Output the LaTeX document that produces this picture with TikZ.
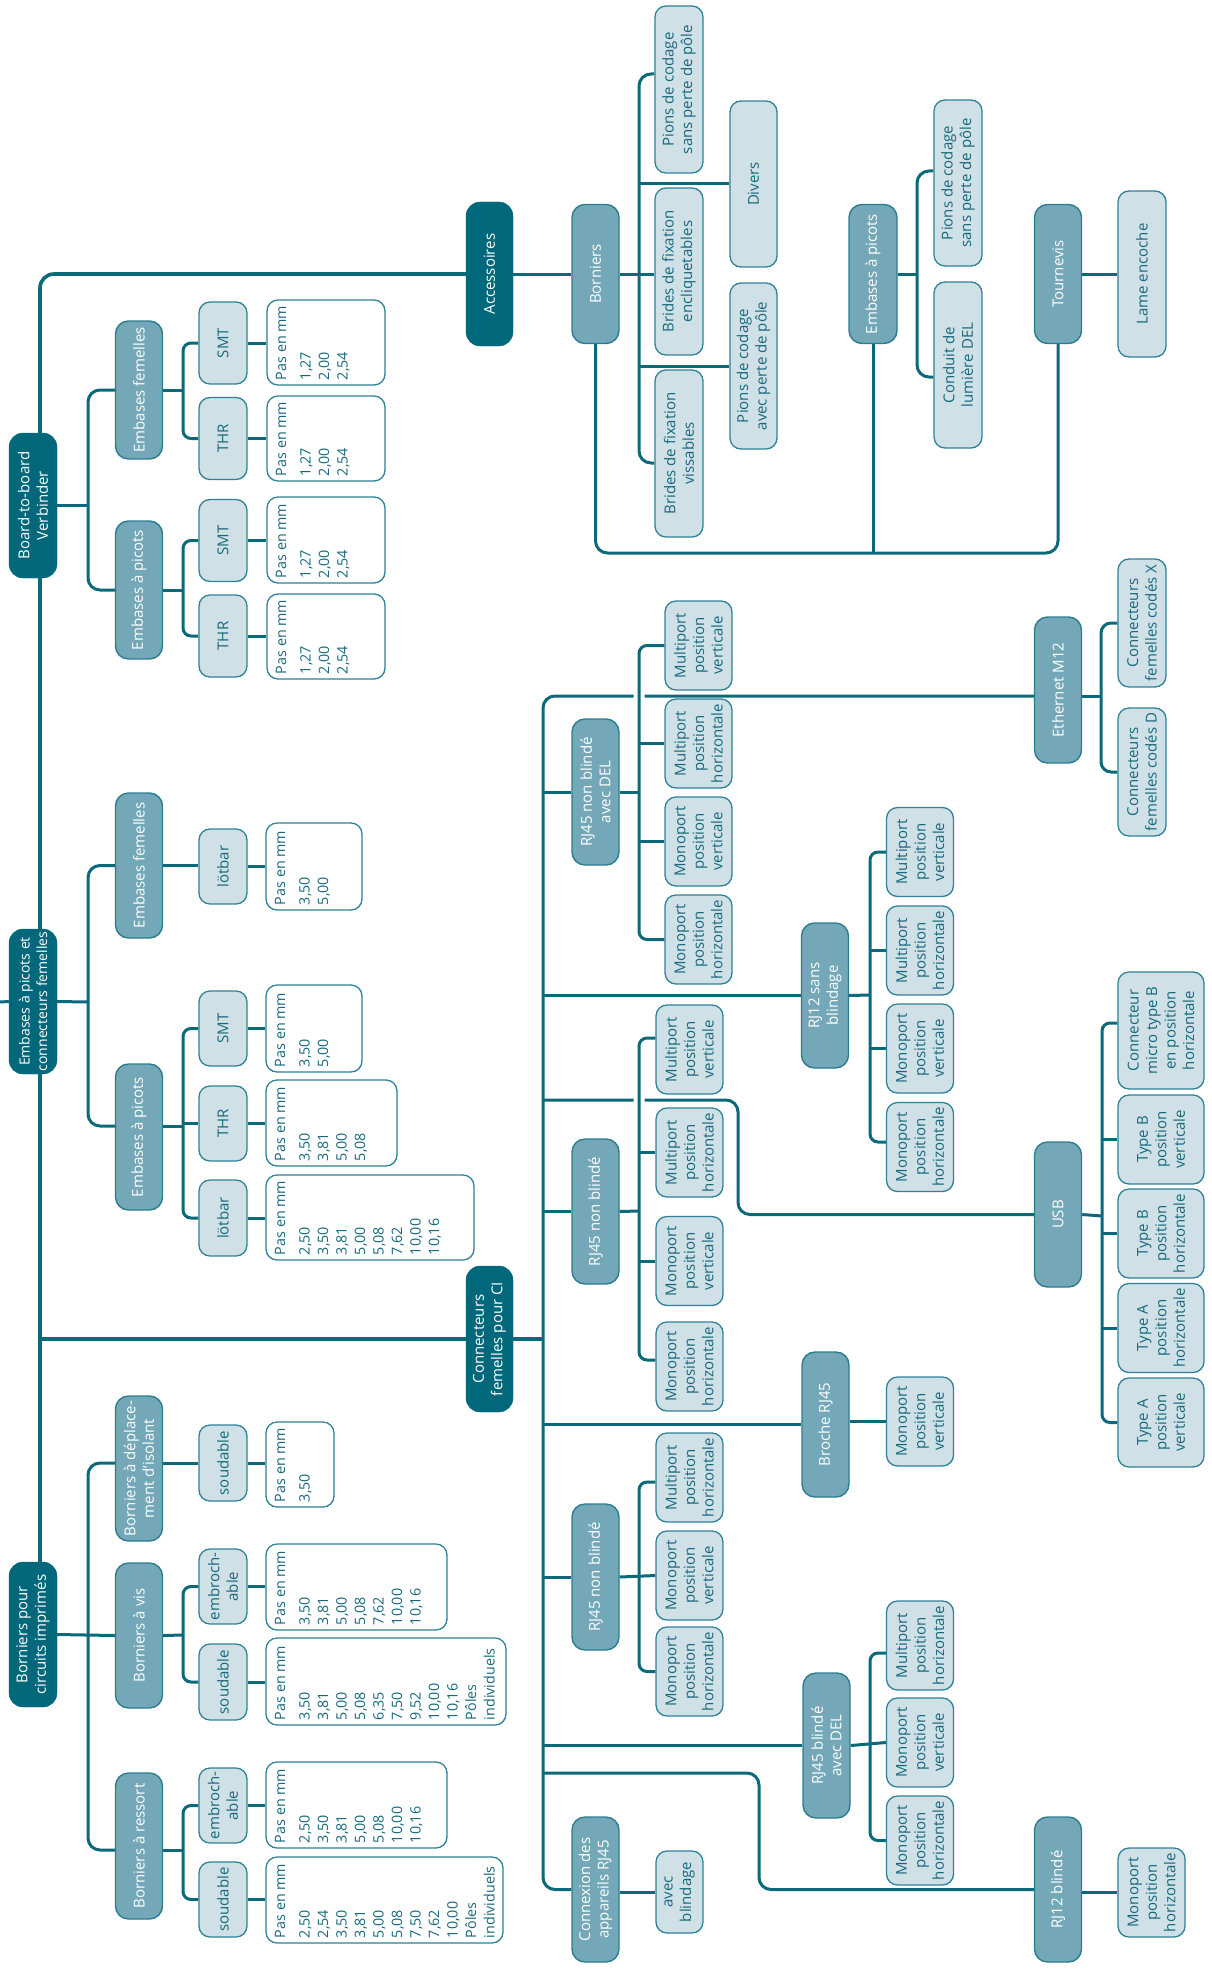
\documentclass[tikz,border=0pt]{standalone}
\usepackage{fontspec}
\setmainfont{Open Sans}
\usetikzlibrary{calc,backgrounds}
\definecolor{tDark}{HTML}{00687A}
\definecolor{tMid}{HTML}{74A8B8}
\definecolor{tMidEdge}{HTML}{2B7C8F}
\definecolor{tLight}{HTML}{CFE1E7}
\definecolor{tEdge}{HTML}{2E8196}
\definecolor{tLine}{HTML}{0B6979}
\definecolor{tText}{HTML}{17687C}
\newcommand{\boxfont}{\fontsize{15}{18.5}\selectfont}
\newcommand{\pasfont}{\fontsize{14.3}{18.5}\selectfont}
\newcommand{\pasmm}[3]{\parbox[c][\dimexpr#1pt-18pt\relax][t]{\dimexpr#2pt-10pt\relax}{\raggedright\mbox{Pas en mm}\\[6pt]#3}}

\begin{document}
\begin{tikzpicture}[x=1pt, y=-1pt,
    boxbase/.style={rotate=90, align=center, inner sep=1pt, font=\boxfont},
    cat/.style={boxbase, fill=tDark, draw=tDark, text=white, rounded corners=14pt,
                minimum width=145pt, minimum height=48pt},
    grp/.style={boxbase, fill=tMid, draw=tMidEdge, line width=1.4pt, text=white,
                rounded corners=13pt, minimum width=145pt, minimum height=47pt},
    opt/.style={boxbase, fill=tLight, draw=tEdge, line width=1.3pt, text=tText,
                rounded corners=11pt, minimum height=48pt},
    multi/.style={opt, minimum width=89pt, minimum height=67pt},
    usbopt/.style={opt, minimum width=89pt, minimum height=86pt},
    pas/.style={rotate=90, draw=tEdge, fill=white, line width=1.3pt, text=tText,
                rounded corners=11pt, inner xsep=5pt, inner ysep=9pt, font=\pasfont},
    ln/.style={draw=tLine, line width=3pt},
    bridge/.style={preaction={draw=white, line width=11pt}}]
  \useasboundingbox (0,0) rectangle (1212,1972);

  % niveau 1
  \node[cat] (bb) at (33,505.5) {Board-to-board\\Verbinder};
  \node[cat, font=\fontsize{14}{17.5}\selectfont] (ep) at (33,1001.5) {Embases à picots et\\connecteurs femelles};
  \node[cat] (bc) at (33,1634.5) {Borniers pour\\circuits imprimés};
  \node[cat, minimum width=144pt, minimum height=47pt] (acc) at (489.5,274) {Accessoires};
  \node[cat, minimum width=146pt, minimum height=47pt] (cf) at (489.5,1339) {Connecteurs\\femelles pour CI};

  % accessoires
  \node[grp, minimum width=139pt] (aBor) at (595.5,274) {Borniers};
  \node[grp, minimum width=139pt, minimum height=48pt] (aEmb) at (873,274) {Embases à picots};
  \node[grp, minimum width=139pt] (aTour) at (1058,274) {Tournevis};
  \node[opt, minimum width=167pt] (a1) at (679,89.5) {Pions de codage\\sans perte de pôle};
  \node[opt, minimum width=167pt] (a2) at (679,271.5) {Brides de fixation\\encliquetables};
  \node[opt, minimum width=167pt] (a3) at (679,453.5) {Brides de fixation\\vissables};
  \node[opt, minimum width=166pt, minimum height=47pt] (a4) at (753.5,184) {Divers};
  \node[opt, minimum width=166pt, minimum height=47pt] (a5) at (753.5,366) {Pions de codage\\avec perte de pôle};
  \node[opt, minimum width=166pt] (a6) at (958,183) {Pions de codage\\sans perte de pôle};
  \node[opt, minimum width=166pt] (a7) at (958,365) {Conduit de\\lumière DEL};
  \node[opt, minimum width=166pt] (a8) at (1142,274) {Lame encoche};

  % board-to-board
  \node[grp, minimum width=138pt] (bEf) at (139,390) {Embases femelles};
  \node[grp, minimum width=138pt] (bEp) at (139,590) {Embases à picots};
  \node[opt, minimum width=82pt] (b1) at (223,343) {SMT};
  \node[opt, minimum width=82pt] (b2) at (223,438.5) {THR};
  \node[opt, minimum width=82pt] (b3) at (223,540.5) {SMT};
  \node[opt, minimum width=82pt] (b4) at (223,636) {THR};
  \node[pas] (p1) at (326,342.5) {\pasmm{118}{85}{1,27\\2,00\\2,54}};
  \node[pas] (p2) at (326,438.5) {\pasmm{118}{85}{1,27\\2,00\\2,54}};
  \node[pas] (p3) at (326,540) {\pasmm{118}{86}{1,27\\2,00\\2,54}};
  \node[pas] (p4) at (326,636.5) {\pasmm{118}{85}{1,27\\2,00\\2,54}};

  % embases a picots et connecteurs femelles
  \node[grp] (eEf) at (139,865.5) {Embases femelles};
  \node[grp, minimum width=146pt] (eEp) at (139,1137) {Embases à picots};
  \node[opt, minimum width=75pt] (e1) at (223,866.5) {lötbar};
  \node[opt, minimum width=75pt] (e2) at (223,1028.5) {SMT};
  \node[opt, minimum width=75pt] (e3) at (223,1123.5) {THR};
  \node[opt, minimum width=76pt] (e4) at (223,1218) {lötbar};
  \node[pas] (p5) at (314,866.5) {\pasmm{96}{87}{3,50\\5,00}};
  \node[pas] (p6) at (314,1028.5) {\pasmm{96}{87}{3,50\\5,00}};
  \node[pas] (p7) at (331.5,1123) {\pasmm{131}{86}{3,50\\3,81\\5,00\\5,08}};
  \node[pas] (p8) at (370,1217.5) {\pasmm{208}{85}{2,50\\3,50\\3,81\\5,00\\5,08\\7,62\\10,00\\10,16}};

  % borniers pour circuits imprimes
  \node[grp] (cDep) at (139,1468.5) {Borniers à déplace-\\ment d'isolant};
  \node[grp] (cVis) at (139,1635.5) {Borniers à vis};
  \node[grp, minimum width=146pt] (cRes) at (139,1846) {Borniers à ressort};
  \node[opt, minimum width=76pt] (c1) at (223,1463) {soudable};
  \node[opt, minimum width=75pt] (c2) at (223,1586.5) {embroch-\\able};
  \node[opt, minimum width=76pt] (c3) at (223,1682) {soudable};
  \node[opt, minimum width=75pt] (c4) at (223,1805.5) {embroch-\\able};
  \node[opt, minimum width=75pt] (c5) at (223,1899.5) {soudable};
  \node[pas] (p9) at (300,1464.5) {\pasmm{68}{85}{3,50}};
  \node[pas] (p10) at (356.5,1587) {\pasmm{181}{86}{3,50\\3,81\\5,00\\5,08\\7,62\\10,00\\10,16}};
  \node[pas] (p11) at (386,1681.5) {\pasmm{240}{87}{3,50\\3,81\\5,00\\5,08\\6,35\\7,50\\9,52\\10,00\\10,16\\Pôles\\individuels}};
  \node[pas] (p12) at (356.5,1805) {\pasmm{181}{86}{2,50\\3,50\\3,81\\5,00\\5,08\\10,00\\10,16}};
  \node[pas] (p13) at (384.5,1900) {\pasmm{237}{86}{2,50\\2,54\\3,50\\3,81\\5,00\\5,08\\7,50\\7,62\\10,00\\Pôles\\individuels}};

  % connecteurs femelles pour CI
  \node[grp, minimum width=146pt] (fEth) at (1058,690) {Ethernet M12};
  \node[opt, minimum width=128pt] (t1) at (1142,623) {Connecteurs\\femelles codés X};
  \node[opt, minimum width=128pt] (t2) at (1142,772) {Connecteurs\\femelles codés D};
  \node[grp, minimum width=146pt] (fRjd) at (595.5,792) {RJ45 non blindé\\avec DEL};
  \node[multi] (d1) at (698.5,645.5) {Multiport\\position\\verticale};
  \node[multi] (d2) at (698.5,743.5) {Multiport\\position\\horizontale};
  \node[multi] (d3) at (698.5,841.5) {Monoport\\position\\verticale};
  \node[multi] (d4) at (698.5,939.5) {Monoport\\position\\horizontale};
  \node[grp] (fRj12) at (825,995.5) {RJ12 sans\\blindage};
  \node[multi] (s1) at (920,852) {Multiport\\position\\verticale};
  \node[multi] (s2) at (920,950.5) {Multiport\\position\\horizontale};
  \node[multi] (s3) at (920,1048.5) {Monoport\\position\\verticale};
  \node[multi] (s4) at (920,1147) {Monoport\\position\\horizontale};
  \node[grp] (fRj1) at (595.5,1211.5) {RJ45 non blindé};
  \node[multi] (n1) at (689.5,1049.5) {Multiport\\position\\verticale};
  \node[multi] (n2) at (689.5,1152.5) {Multiport\\position\\horizontale};
  \node[multi] (n3) at (689.5,1261) {Monoport\\position\\verticale};
  \node[multi] (n4) at (689.5,1366.5) {Monoport\\position\\horizontale};
  \node[grp] (fUsb) at (1058,1214.5) {USB};
  \node[usbopt, minimum width=117pt] (u1) at (1161,1030.5) {Connecteur\\micro type B\\en position\\horizontale};
  \node[usbopt] (u2) at (1161,1139.5) {Type B\\position\\verticale};
  \node[usbopt] (u3) at (1161,1233.5) {Type B\\position\\horizontale};
  \node[usbopt] (u4) at (1161,1328) {Type A\\position\\horizontale};
  \node[usbopt] (u5) at (1161,1422.5) {Type A\\position\\verticale};
  \node[grp] (fBr) at (825.5,1424.5) {Broche RJ45};
  \node[multi] (br1) at (920,1421.5) {Monoport\\position\\verticale};
  \node[grp, minimum width=146pt] (fRj2) at (595.5,1577) {RJ45 non blindé};
  \node[multi] (m1) at (689.5,1477.5) {Multiport\\position\\horizontale};
  \node[multi] (m2) at (689.5,1575.5) {Monoport\\position\\verticale};
  \node[multi] (m3) at (689.5,1671.5) {Monoport\\position\\horizontale};
  \node[grp] (fRjb) at (826.5,1745.5) {RJ45 blindé\\avec DEL};
  \node[multi] (k1) at (920,1645.5) {Multiport\\position\\horizontale};
  \node[multi] (k2) at (920,1742.5) {Monoport\\position\\verticale};
  \node[multi] (k3) at (920,1840.5) {Monoport\\position\\horizontale};
  \node[grp] (fRj12b) at (1058,1889.5) {RJ12 blindé};
  \node[multi] (j1) at (1151.5,1892.5) {Monoport\\position\\horizontale};
  \node[grp] (fCon) at (595.5,1889.5) {Connexion des\\appareils RJ45};
  \node[opt, minimum width=82pt, minimum height=47pt] (x1) at (679.5,1892) {avec\\blindage};

  \begin{scope}[on background layer]
    % tronc
    \coordinate (trunk) at (40,1338);
    \coordinate (edgeL) at (0,1002);
    \draw[ln, line width=3.6pt, rounded corners=14pt] (trunk |- bc.east) |- (acc.north);
    \draw[ln, line width=3.6pt] (cf.north -| trunk) -- (cf.north);
    \draw[ln] (edgeL) -- (ep.north);

    % accessoires
    \coordinate (busA) at (639,274);
    \draw[ln] (acc) -- (aBor);
    \draw[ln, rounded corners=12pt] ($(a1.north)+(0,-15.5)$) -| (busA) |- ($(a3.north)+(0,9.5)$);
    \draw[ln] (aBor.south) -- (aBor.south -| a2.north);
    \draw[ln] (a4.north -| busA) -- (a4.north);
    \draw[ln] (a5.north -| busA) -- (a5.north);
    \coordinate (accBot) at (873,553);
    \draw[ln, rounded corners=12pt] (aBor.west) |- (accBot) -| (aTour.west);
    \draw[ln] (aEmb.west) -- (accBot);
    \coordinate (busB) at (917,274);
    \draw[ln, rounded corners=12pt] ($(a6.north)+(0,-12)$) -| (busB) |- ($(a7.north)+(0,12)$);
    \draw[ln] (aEmb.south) -- (busB);
    \draw[ln] (aTour) -- (a8);

    % board-to-board
    \coordinate (busC) at (88,505);
    \draw[ln, rounded corners=12pt] (bEf.north) -| (busC) |- (bEp.north);
    \draw[ln] (bb.south) -- (bb.south -| busC);
    \coordinate (busD) at (183,390);
    \draw[ln, rounded corners=8pt] (b1.north) -| (busD) |- (b2.north);
    \draw[ln] (bEf.south) -- (busD);
    \coordinate (busE) at (183,590);
    \draw[ln, rounded corners=8pt] (b3.north) -| (busE) |- (b4.north);
    \draw[ln] (bEp.south) -- (busE);

    % embases
    \coordinate (busF) at (88,1002);
    \draw[ln, rounded corners=12pt] (eEf.north) -| (busF) |- ($(eEp.north)+(0,-11)$);
    \draw[ln] (ep.south) -- (busF);
    \draw[ln] (eEf.south) -- (eEf.south -| e1.north);
    \coordinate (busG) at (183,1126);
    \draw[ln, rounded corners=8pt] (e2.north) -| (busG) |- (e4.north);
    \draw[ln] ($(eEp.south)+(0,-11)$) -- (busG);
    \draw[ln] (e3.north -| busG) -- (e3.north);

    % borniers
    \coordinate (busH) at (88,1634);
    \draw[ln, rounded corners=12pt] ($(cDep.north)+(0,-5.5)$) -| (busH) |- ($(cRes.north)+(0,4)$);
    \draw[ln] (bc.south) -- (cVis.north);
    \draw[ln] (c1.north -| cDep.south) -- (c1.north);
    \coordinate (busI) at (183,1635);
    \draw[ln, rounded corners=8pt] (c2.north) -| (busI) |- (c3.north);
    \draw[ln] (cVis.south) -- (busI);
    \coordinate (busR) at (183,1850);
    \draw[ln, rounded corners=8pt] (c4.north) -| (busR) |- (c5.north);
    \draw[ln] ($(cRes.south)+(0,4)$) -- (busR);

    % listes des pas
    \foreach \o/\p in {b1/p1,b2/p2,b3/p3,b4/p4,e1/p5,e2/p6,e3/p7,e4/p8,
                       c1/p9,c2/p10,c3/p11,c4/p12,c5/p13}
      \draw[ln] (\o.south) -- (\o.south -| \p.north);

    % connecteurs femelles pour CI
    \coordinate (busJ) at (543,1339);
    \draw[ln, line width=3.6pt] (cf.south) -- (busJ);
    \draw[ln, rounded corners=12pt] ($(fEth.north)+(0,6)$) -| (busJ) |- (fCon.north);
    \foreach \g in {fRjd,fRj12,fRj1,fBr,fRj2,fRjb}
      \draw[ln] (\g.north -| busJ) -- (\g.north);
    \coordinate (usbTurn) at (738,1100);
    \draw[ln, rounded corners=12pt] (usbTurn -| busJ) -- (usbTurn) |- (fUsb.north);
    \coordinate (rjTurn) at (759,1773);
    \draw[ln, rounded corners=12pt] (rjTurn -| busJ) -- (rjTurn) |- (fRj12b.north);

    \coordinate (busK) at (639,792);
    \draw[ln, bridge, rounded corners=8pt] (d1.north) -| (busK) |- (d4.north);
    \draw[ln] (fRjd.south) -- (busK);
    \foreach \o in {d2,d3} \draw[ln] (\o.north -| busK) -- (\o.north);

    \coordinate (busL) at (870,995);
    \draw[ln, rounded corners=8pt] (s1.north) -| (busL) |- ($(s4.north)+(0,-5)$);
    \draw[ln] (fRj12.south) -- (busL);
    \foreach \o in {s2,s3} \draw[ln] (\o.north -| busL) -- (\o.north);

    \coordinate (busM) at (639,1211);
    \draw[ln, bridge, rounded corners=8pt] ($(n1.north)+(0,-11.5)$) -| (busM) |- ($(n4.north)+(0,-6.5)$);
    \draw[ln] (fRj1.south) -- (busM);
    \foreach \o in {n2,n3} \draw[ln] (\o.north -| busM) -- (\o.north);

    \coordinate (busN) at (1102,1216);
    \draw[ln, rounded corners=8pt] ($(u1.north)+(0,-7.5)$) -| (busN) |- (u5.north);
    \draw[ln] (fUsb.south) -- (busN);
    \foreach \o in {u2,u3,u4} \draw[ln] (\o.north -| busN) -- (\o.north);

    \draw[ln] (br1.north -| fBr.south) -- (br1.north);

    \coordinate (busO) at (639,1577);
    \draw[ln, rounded corners=8pt] ($(m1.north)+(0,4.5)$) -| (busO) |- (m3.north);
    \draw[ln] (fRj2.south) -- (m2.north);

    \coordinate (busP) at (870,1746);
    \draw[ln, rounded corners=8pt] ($(k1.north)+(0,7.5)$) -| (busP) |- (k3.north);
    \draw[ln] (fRjb.south) -- (k2.north);

    \draw[ln] (j1.north -| fRj12b.south) -- (j1.north);
    \draw[ln] (x1.north -| fCon.south) -- (x1.north);

    \coordinate (busQ) at (1101,696);
    \draw[ln, rounded corners=10pt] (t1.north) -| (busQ) |- (t2.north);
    \draw[ln] ($(fEth.south)+(0,6)$) -- (busQ);
  \end{scope}
\end{tikzpicture}
\end{document}
